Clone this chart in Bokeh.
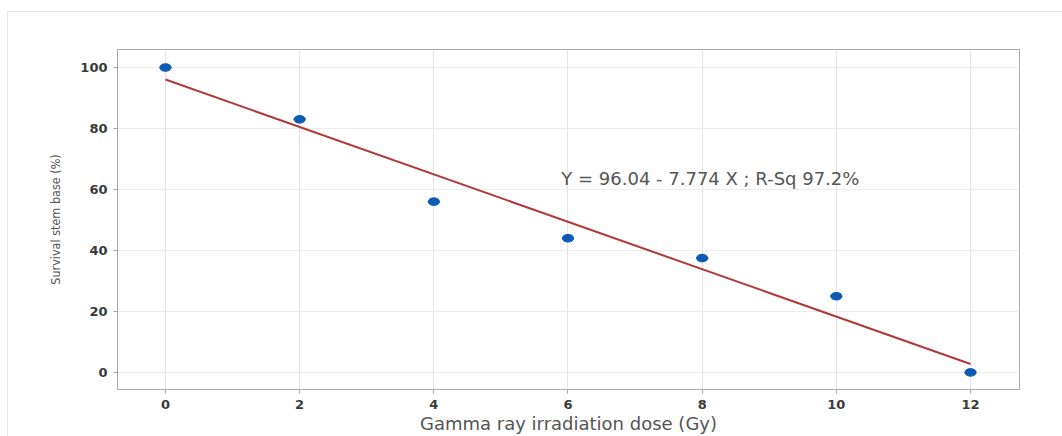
from bokeh.plotting import figure
from bokeh.embed import file_html
from bokeh.resources import INLINE
from bokeh.models import Range1d, FixedTicker, Label

dose = [0, 2, 4, 6, 8, 10, 12]
survival = [100, 83, 56, 44, 37.5, 25, 0]
intercept = 96.04
slope = -7.774
x_ticks = [0, 2, 4, 6, 8, 10, 12]
y_ticks = [0, 20, 40, 60, 80, 100]
equation = "Y = 96.04 - 7.774 X  ; R-Sq 97.2%"
x_title = "Gamma ray irradiation dose (Gy)"
y_title = "Survival stem base (%)"

p = figure(width=1055, height=425, output_backend="svg", toolbar_location=None,
           x_range=Range1d(-0.715, 12.73), y_range=Range1d(-5.6, 105.9),
           min_border_left=109, min_border_top=37, min_border_right=44, min_border_bottom=48)
p.styles = {"margin-left": "7px", "margin-top": "11px",
            "border-left": "1px solid #e6e6e6", "border-top": "1px solid #e6e6e6"}

p.outline_line_color = "#a8a8a8"
p.outline_line_width = 1
p.background_fill_color = "white"
p.border_fill_color = "white"

for ax in (p.xaxis[0], p.yaxis[0]):
    ax.axis_line_color = None
    ax.major_tick_line_color = "#a8a8a8"
    ax.minor_tick_line_color = None
    ax.major_tick_out = 4
    ax.major_tick_in = 0
    ax.major_label_text_font = "DejaVu Sans"
    ax.major_label_text_font_size = "13px"
    ax.major_label_text_font_style = "bold"
    ax.major_label_text_color = "#3a3a3a"
    ax.axis_label_text_font_style = "normal"
    ax.axis_label_text_color = "#555555"

p.xaxis.ticker = FixedTicker(ticks=x_ticks)
p.yaxis.ticker = FixedTicker(ticks=y_ticks)
p.xaxis.axis_label = x_title
p.xaxis.axis_label_text_font = "DejaVu Sans"
p.xaxis.axis_label_text_font_size = "18px"
p.xaxis.axis_label_standoff = 1
p.xaxis.major_label_standoff = 6
p.yaxis.axis_label = y_title
p.yaxis.axis_label_text_font = "DejaVu Sans Condensed"
p.yaxis.axis_label_text_font_size = "12.5px"
p.yaxis.axis_label_standoff = 14
p.yaxis.major_label_standoff = 6

p.xgrid.grid_line_color = "#e4e4e4"
p.ygrid.grid_line_color = "#ececec"

fit_x = [min(dose), max(dose)]
fit_y = [intercept + slope * x for x in fit_x]
p.line(fit_x, fit_y, line_color="#b03a3a", line_width=2)
p.ellipse(dose, survival, width=0.17, height=2.5, fill_color="#0b5bb5", line_color="#0b5bb5")

p.add_layout(Label(x=5.9, y=63.5, text=equation, text_font="DejaVu Sans", text_font_size="18px",
                   text_color="#555555", text_baseline="middle"))

open("out.html", "w").write(file_html(p, INLINE))
